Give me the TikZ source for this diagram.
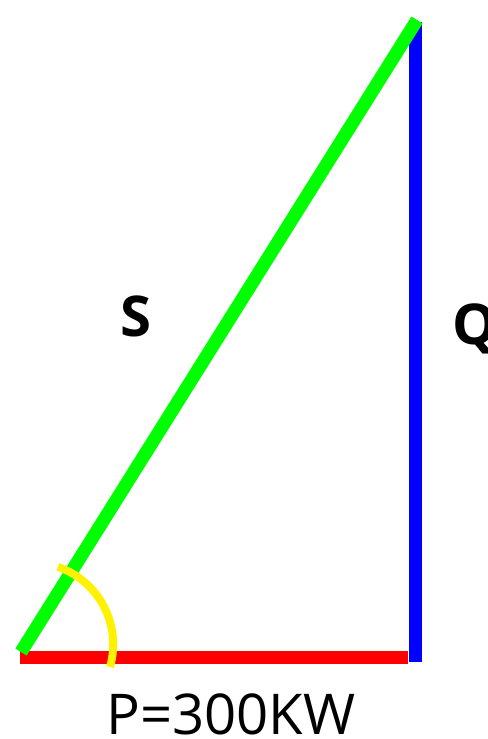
\documentclass[tikz,border=0pt]{standalone}
\usepackage{fontspec}
\setmainfont{Open Sans}

\begin{document}
\begin{tikzpicture}[
  x=0.02cm, y=-0.02cm,
  side/.style={line width=7.5pt},
  tag/.style={inner sep=0pt, font=\fontsize{32}{36}\selectfont\bfseries},
  val/.style={inner sep=0pt, font=\fontsize{32}{36}\selectfont}
]
  \useasboundingbox (0,0) rectangle (487,739);

  % corners of the power triangle
  \coordinate (pa) at (20,657.5);
  \coordinate (pb) at (408,657.5);
  \coordinate (qa) at (415.5,22);
  \coordinate (qb) at (415.5,662);
  \coordinate (sa) at (21,652);
  \coordinate (sb) at (417,20);

  \draw[side, red] (pa) -- (pb);
  \draw[side, blue] (qa) -- (qb);
  \draw[side, green] (sa) -- (sb);
  \draw[yellow, line width=4.5pt] (110,667) arc[start angle=16, end angle=-71, radius=82];

  \node[tag, anchor=base] (s) at (136,337) {S};
  \node[tag, anchor=base west] (q) at (452,344) {Q};
  \node[val, anchor=base] (p) at (231,734) {P=300KW};
\end{tikzpicture}
\end{document}
